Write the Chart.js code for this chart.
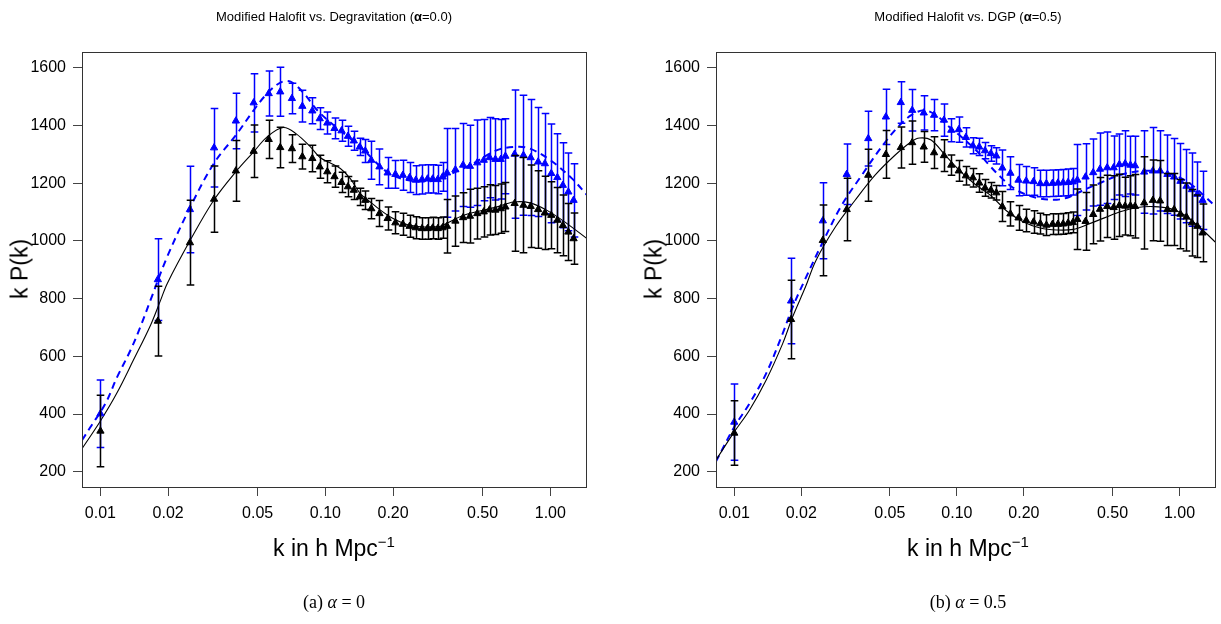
<!DOCTYPE html>
<html>
<head>
<meta charset="utf-8">
<script src="https://cdn.jsdelivr.net/npm/chart.js@4.4.0/dist/chart.umd.min.js"></script>
<style>
html,body{margin:0;padding:0;background:#fff;overflow:hidden;width:1221px;height:624px;}
.panel{position:absolute;top:0;height:560px;}
.txt{position:absolute;font-family:"Liberation Sans",Arial,sans-serif;color:#000;white-space:nowrap;transform:translate(-50%,-50%);}
.title{font-size:13px;}
.lab{font-size:23px;}
.ylab{transform:translate(-50%,-50%) rotate(-90deg);}
.cap{font-family:"Liberation Serif","Times New Roman",serif;font-size:18px;}
.sup{font-size:15px;position:relative;top:-9px;}
</style>
</head>
<body>
<div class="panel" style="left:0;width:610px;"><canvas id="c1"></canvas></div>
<div class="panel" style="left:634px;width:587px;"><canvas id="c2"></canvas></div>

<div class="txt title" style="left:334px;top:16px;">Modified Halofit vs. Degravitation (<b>α</b>=0.0)</div>
<div class="txt title" style="left:968px;top:16px;">Modified Halofit vs. DGP (<b>α</b>=0.5)</div>
<div class="txt lab ylab" style="left:20px;top:269px;">k P(k)</div>
<div class="txt lab ylab" style="left:654px;top:269px;">k P(k)</div>
<div class="txt lab" style="left:334px;top:548px;">k in h Mpc<span class="sup">−1</span></div>
<div class="txt lab" style="left:968px;top:548px;">k in h Mpc<span class="sup">−1</span></div>
<div class="txt cap" style="left:334px;top:602px;">(a) <i>α</i> = 0</div>
<div class="txt cap" style="left:968px;top:602px;">(b) <i>α</i> = 0.5</div>

<script>
// ---------- shared axis data ----------
const xTickVals = [0.01, 0.02, 0.05, 0.1, 0.2, 0.5, 1.0];
const xTickLabels = ['0.01', '0.02', '0.05', '0.10', '0.20', '0.50', '1.00'];
const yTickVals = [200, 400, 600, 800, 1000, 1200, 1400, 1600];

// k bins of the measured points (both panels)
const kBins = [0.0100, 0.0180, 0.0250, 0.0320, 0.0400, 0.0480, 0.0560, 0.0630, 0.0710, 0.0790,
  0.0875, 0.0944, 0.1020, 0.1098, 0.1180, 0.1260, 0.1338, 0.1422, 0.1504, 0.1600,
  0.1740, 0.1892, 0.2048, 0.2210, 0.2370, 0.2525, 0.2690, 0.2845, 0.3000, 0.3160, 0.3320,
  0.3476, 0.3785, 0.4095, 0.4395, 0.4735, 0.5060, 0.5370, 0.5700, 0.6020, 0.6315,
  0.6940, 0.7595, 0.8180, 0.8830, 0.9460, 1.0100, 1.0750, 1.1370, 1.2030, 1.2690];

// ---------- panel (a): alpha = 0 ----------
const aBlue = [401, 866, 1109, 1323, 1416, 1479, 1511, 1517, 1494, 1467,
  1451, 1424, 1409, 1390, 1382, 1363, 1347, 1326, 1312, 1280,
  1257, 1236, 1231, 1228, 1220, 1211, 1213, 1215, 1215, 1213, 1222,
  1236, 1247, 1263, 1259, 1271, 1280, 1289, 1283, 1283, 1294,
  1301, 1297, 1289, 1274, 1268, 1234, 1220, 1193, 1170, 1141];
const aBlueErr = [117, 142, 150, 136, 96, 101, 78, 85, 53, 55,
  45, 38, 38, 36, 36, 35, 33, 30, 40, 66,
  62, 53, 48, 52, 52, 50, 50, 49, 49, 49, 50,
  154, 143, 144, 142, 148, 141, 139, 141, 138, 130,
  222, 208, 201, 189, 174, 171, 152, 147, 135, 127];
const aBlack = [341, 722, 994, 1145, 1243, 1311, 1352, 1324, 1320, 1292,
  1286, 1257, 1240, 1223, 1203, 1188, 1176, 1153, 1141, 1112,
  1095, 1078, 1063, 1058, 1051, 1046, 1043, 1043, 1045, 1043, 1046,
  1051, 1069, 1081, 1086, 1095, 1101, 1108, 1107, 1112, 1118,
  1130, 1124, 1120, 1109, 1097, 1089, 1072, 1054, 1031, 1008];
const aBlackErr = [124, 121, 147, 115, 105, 91, 66, 70, 48, 43,
  46, 40, 38, 37, 35, 35, 32, 30, 32, 35,
  45, 40, 38, 38, 38, 38, 37, 37, 37, 37, 37,
  93, 87, 86, 93, 88, 87, 87, 85, 85, 85,
  166, 165, 143, 134, 127, 116, 113, 105, 99, 89];
const aDashK = [0.00828, 0.00903, 0.01052, 0.01186, 0.0136, 0.01505, 0.01668, 0.0198, 0.0251, 0.0319,
  0.0405, 0.048, 0.0551, 0.0631, 0.070, 0.080, 0.092, 0.109, 0.129, 0.148,
  0.188, 0.231, 0.293, 0.335, 0.441, 0.58, 0.711, 0.813, 1.0, 1.25, 1.456];
const aDashV = [309, 355, 436, 528, 621, 702, 794, 945, 1118, 1268,
  1372, 1453, 1511, 1549, 1552, 1513, 1453, 1401, 1355, 1315,
  1239, 1211, 1207, 1222, 1263, 1315, 1326, 1320, 1280, 1216, 1159];
const aSolidK = [0.00828, 0.0100, 0.0118, 0.0140, 0.0167, 0.0185, 0.0198, 0.0251, 0.0319, 0.0405,
  0.048, 0.0551, 0.065, 0.074, 0.0858, 0.0944, 0.1052, 0.1166, 0.1291, 0.143,
  0.1585, 0.1756, 0.1945, 0.2154, 0.2387, 0.2644, 0.2929, 0.3245, 0.412, 0.58,
  0.687, 0.813, 0.967, 1.15, 1.456];
const aSolidV = [280, 376, 471, 586, 708, 794, 852, 1003, 1141, 1245,
  1309, 1361, 1393, 1372, 1326, 1290, 1270, 1251, 1216, 1164,
  1135, 1107, 1083, 1066, 1054, 1049, 1049, 1051, 1089, 1118,
  1135, 1132, 1106, 1068, 1008];

// ---------- panel (b): alpha = 0.5 ----------
const bBlue = [372, 792, 1070, 1231, 1355, 1430, 1480, 1453, 1444, 1436,
  1419, 1384, 1386, 1359, 1330, 1326, 1313, 1303, 1295, 1253,
  1235, 1211, 1208, 1206, 1199, 1199, 1200, 1201, 1202, 1203, 1205,
  1211, 1222, 1237, 1249, 1254, 1254, 1265, 1268, 1263, 1261,
  1239, 1243, 1243, 1231, 1222, 1207, 1190, 1178, 1162, 1141];
const bBlueErr = [132, 148, 132, 105, 95, 96, 72, 72, 59, 54,
  56, 40, 44, 33, 28, 30, 28, 27, 28, 62,
  57, 54, 50, 48, 46, 46, 46, 46, 46, 46, 46,
  123, 115, 116, 125, 124, 110, 106, 114, 100, 102,
  143, 150, 139, 136, 133, 131, 127, 127, 112, 101];
const bBlack = [334, 728, 1002, 1109, 1228, 1300, 1324, 1341, 1326, 1306,
  1296, 1263, 1243, 1226, 1219, 1201, 1184, 1176, 1167, 1119,
  1094, 1080, 1071, 1066, 1060, 1055, 1058, 1058, 1059, 1062, 1064,
  1075, 1068, 1092, 1110, 1120, 1116, 1123, 1121, 1122, 1120,
  1132, 1141, 1139, 1109, 1109, 1093, 1083, 1063, 1051, 1028];
const bBlackErr = [112, 136, 123, 108, 90, 83, 71, 75, 53, 55,
  55, 35, 36, 32, 32, 32, 29, 27, 25, 52,
  42, 43, 39, 39, 36, 36, 36, 36, 36, 36, 36,
  105, 100, 102, 110, 108, 110, 108, 100, 104, 110,
  160, 140, 140, 125, 125, 120, 118, 115, 108, 100];
const bDashK = [0.00826, 0.0100, 0.0117, 0.0139, 0.0165, 0.0183, 0.0209, 0.0248, 0.0304, 0.0374,
  0.0459, 0.0545, 0.0624, 0.0716, 0.082, 0.0909, 0.105, 0.1236, 0.140, 0.157,
  0.177, 0.200, 0.236, 0.281, 0.322, 0.37, 0.438, 0.537, 0.682, 0.868,
  1.07, 1.26, 1.457];
const bDashV = [234, 355, 436, 540, 679, 771, 870, 991, 1124, 1228,
  1326, 1396, 1436, 1453, 1432, 1400, 1360, 1310, 1262, 1222,
  1187, 1164, 1147, 1143, 1153, 1176, 1200, 1228, 1243, 1236,
  1208, 1164, 1118];
const bSolidK = [0.00826, 0.0100, 0.0117, 0.0139, 0.0165, 0.0183, 0.0209, 0.0232, 0.0285, 0.0349,
  0.0429, 0.0527, 0.0624, 0.068, 0.0766, 0.088, 0.1007, 0.1195, 0.1418, 0.168,
  0.1995, 0.2366, 0.281, 0.333, 0.389, 0.46, 0.546, 0.647, 0.768, 0.91,
  1.045, 1.19, 1.30, 1.457];
const bSolidV = [239, 338, 413, 517, 644, 737, 841, 930, 1049, 1141,
  1228, 1297, 1344, 1357, 1350, 1300, 1251, 1199, 1158, 1103,
  1066, 1045, 1038, 1040, 1058, 1080, 1102, 1116, 1119, 1112,
  1092, 1058, 1031, 994];

const BLUE = '#0000ff';
const BLACK = '#000000';

const pairs = (xs, ys) => xs.map((x, i) => ({x: x, y: ys[i]}));

// error bars drawn through the chart scales, right before each point dataset
const errorBarPlugin = {
  id: 'errbars',
  beforeDatasetDraw(chart, args) {
    const ds = chart.data.datasets[args.index];
    if (!ds.errors) return;
    const ctx = chart.ctx, xs = chart.scales.x, ys = chart.scales.y;
    ctx.save();
    ctx.strokeStyle = ds.borderColor;
    ctx.lineWidth = 1.5;
    ds.data.forEach((p, i) => {
      const x = Math.round(xs.getPixelForValue(p.x)) + 0.5;
      const y1 = ys.getPixelForValue(p.y - ds.errors[i]);
      const y2 = ys.getPixelForValue(p.y + ds.errors[i]);
      ctx.beginPath();
      ctx.moveTo(x, y1); ctx.lineTo(x, y2);
      ctx.moveTo(x - 3.8, y1); ctx.lineTo(x + 3.8, y1);
      ctx.moveTo(x - 3.8, y2); ctx.lineTo(x + 3.8, y2);
      ctx.stroke();
    });
    ctx.restore();
  }
};

const boxPlugin = {
  id: 'box',
  afterDraw(chart) {
    const a = chart.chartArea, ctx = chart.ctx;
    ctx.save();
    ctx.strokeStyle = '#333';
    ctx.lineWidth = 1;
    ctx.strokeRect(Math.round(a.left) + 0.5, Math.round(a.top) + 0.5,
      Math.round(a.right - a.left) - 1, Math.round(a.bottom - a.top));
    ctx.restore();
  }
};

function makePanel(id, blue, blueErr, black, blackErr, dashK, dashV, solidK, solidV, rightPad) {
  new Chart(document.getElementById(id), {
    type: 'scatter',
    data: {
      datasets: [
        {
          label: 'black points', data: pairs(kBins, black), errors: blackErr,
          pointStyle: 'triangle', pointRadius: 4.2, borderWidth: 1,
          backgroundColor: BLACK, borderColor: BLACK, showLine: false, order: 0
        },
        {
          label: 'blue points', data: pairs(kBins, blue), errors: blueErr,
          pointStyle: 'triangle', pointRadius: 4.2, borderWidth: 1,
          backgroundColor: BLUE, borderColor: BLUE, showLine: false, order: 1
        },
        {
          type: 'line', label: 'model', data: pairs(solidK, solidV),
          borderColor: BLACK, borderWidth: 1.1, pointRadius: 0, tension: 0.35,
          fill: false, order: 2
        },
        {
          type: 'line', label: 'modified halofit', data: pairs(dashK, dashV),
          borderColor: BLUE, borderWidth: 2, borderDash: [7, 5], pointRadius: 0, tension: 0.35,
          fill: false, order: 3
        }
      ]
    },
    options: {
      responsive: true,
      maintainAspectRatio: false,
      animation: false,
      events: [],
      layout: { padding: { left: 0, right: rightPad, top: 52, bottom: 0 } },
      plugins: { legend: { display: false }, tooltip: { enabled: false }, title: { display: false } },
      scales: {
        x: {
          type: 'logarithmic', min: 0.00828, max: 1.456,
          afterBuildTicks: (s) => { s.ticks = xTickVals.map(v => ({ value: v })); },
          afterFit: (s) => { s.height = 73; },
          ticks: {
            autoSkip: false, maxRotation: 0, padding: 8, color: '#000',
            font: { family: '"Liberation Sans", Arial, sans-serif', size: 16 },
            callback: (v, i) => xTickLabels[i]
          },
          grid: { display: true, drawOnChartArea: false, drawTicks: true, tickLength: 9, color: '#444', lineWidth: 1 },
          border: { display: false }
        },
        y: {
          type: 'linear', min: 147, max: 1655,
          afterBuildTicks: (s) => { s.ticks = yTickVals.map(v => ({ value: v })); },
          afterFit: (s) => { s.width = 82; },
          ticks: {
            padding: 7, color: '#000',
            font: { family: '"Liberation Sans", Arial, sans-serif', size: 16 },
            callback: (v) => String(v)
          },
          grid: { display: true, drawOnChartArea: false, drawTicks: true, tickLength: 9, color: '#444', lineWidth: 1 },
          border: { display: false }
        }
      }
    },
    plugins: [errorBarPlugin, boxPlugin]
  });
}

makePanel('c1', aBlue, aBlueErr, aBlack, aBlackErr, aDashK, aDashV, aSolidK, aSolidV, 23);
makePanel('c2', bBlue, bBlueErr, bBlack, bBlackErr, bDashK, bDashV, bSolidK, bSolidV, 1);
</script>
</body>
</html>
